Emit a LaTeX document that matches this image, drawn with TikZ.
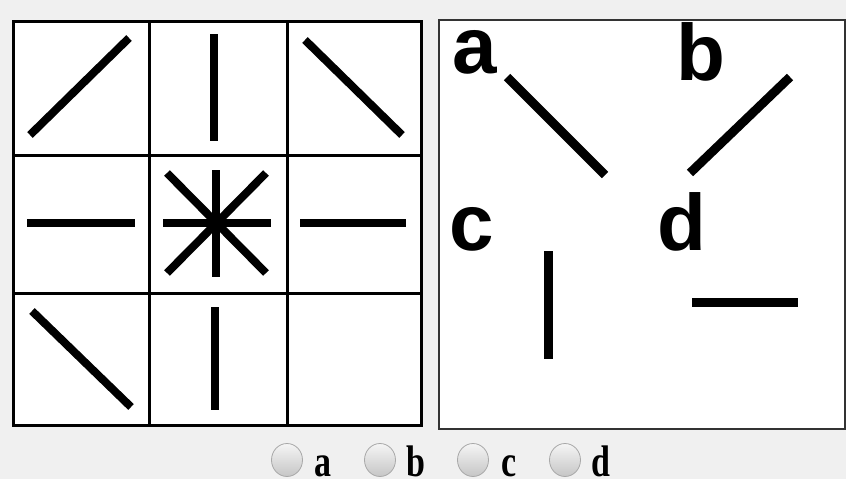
\documentclass[tikz,border=0pt]{standalone}
\usepackage{fontspec}
\usepackage{graphicx}
\usetikzlibrary{shapes.geometric}
\setmainfont{Liberation Serif}
\newfontfamily\sansf{Liberation Sans}
\definecolor{bggray}{HTML}{F0F0F0}
\definecolor{radioedge}{HTML}{A8A8A8}
\begin{document}
\begin{tikzpicture}[x=1pt,y=-1pt,
  gridline/.style={line width=3pt,black},
  figline/.style={line width=8pt,black,line cap=butt},
  optline/.style={line width=9pt,black,line cap=butt},
  bigletter/.style={font=\sansf\bfseries\fontsize{80}{80}\selectfont,inner sep=0pt,anchor=base west},
  radio/.style={draw=radioedge,line width=0.8pt,top color=white!92!gray,bottom color=gray!45,ellipse,minimum width=31pt,minimum height=33pt,inner sep=0pt},
  radiolabel/.style={font=\bfseries\fontsize{34}{34}\selectfont,inner sep=0pt,text depth=0pt,anchor=base west}]
\useasboundingbox (0,0) rectangle (846,479);
\fill[bggray] (0,0) rectangle (846,479);
% left grid
\fill[white] (13,21) rectangle (421,425);
\draw[gridline] (13,21) rectangle (421,425);
\draw[gridline] (149,21) -- (149,425);
\draw[gridline] (287,21) -- (287,425);
\draw[gridline] (13,155) -- (421,155);
\draw[gridline] (13,293) -- (421,293);
% row 1
\draw[figline] (30,135) -- (129,38);
\draw[figline] (214,34) -- (214,141);
\draw[figline] (305,40) -- (402,135);
% row 2
\draw[figline] (27,223) -- (135,223);
\draw[figline] (163,223) -- (271,223);
\draw[figline] (216,170) -- (216,277);
\draw[figline] (167,173) -- (266,273);
\draw[figline] (266,173) -- (167,273);
\draw[figline] (300,223) -- (406,223);
% row 3
\draw[figline] (32,311) -- (131,407);
\draw[figline] (215,307) -- (215,410);
% right panel
\fill[white] (439,20) rectangle (845,429);
\draw[line width=1.5pt,black!80] (439,20) rectangle (845,429);
\node[bigletter] (la) at (452,73) {a};
\node[bigletter] (lb) at (676,80) {b};
\node[bigletter] (lc) at (449,250) {c};
\node[bigletter] (ld) at (657,250) {d};
\draw[optline] (507,77) -- (605,175);
\draw[optline] (790,77) -- (690,173);
\draw[optline] (548,251) -- (548,359);
\draw[optline] (692,302) -- (798,302);
% radio buttons
\node[radio] (ra) at (287,460) {};
\node[radio] (rb) at (380,460) {};
\node[radio] (rc) at (473,460) {};
\node[radio] (rd) at (565,460) {};
\node[radiolabel] (ta) at (314,476) {\scalebox{1}[1.3]{a}};
\node[radiolabel] (tb) at (406,476) {\scalebox{1}[1.3]{b}};
\node[radiolabel] (tc) at (501,476) {\scalebox{1}[1.3]{c}};
\node[radiolabel] (td) at (591,476) {\scalebox{1}[1.3]{d}};
\end{tikzpicture}
\end{document}
